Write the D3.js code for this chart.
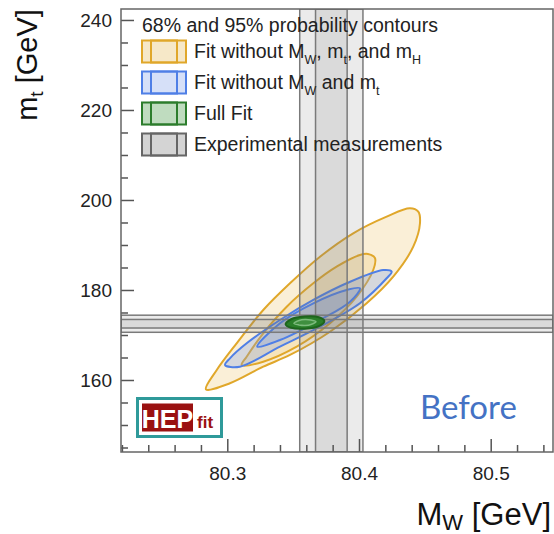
<!DOCTYPE html>
<html>
<head>
<meta charset="utf-8">
<script src="https://cdn.jsdelivr.net/npm/d3@7"></script>
<style>
  body { margin: 0; background: #fff; }
  svg text { font-family: "Liberation Sans", Arial, sans-serif; }
</style>
</head>
<body>
<div id="chart"></div>
<script>
// axis ticks
var xMajor = [80.3, 80.4, 80.5],
    xMinor = [80.22, 80.24, 80.26, 80.28, 80.32, 80.34, 80.36, 80.38, 80.42, 80.44, 80.46, 80.48, 80.52, 80.54],
    yMajor = [160, 180, 200, 220, 240],
    yMinor = [145, 150, 155, 165, 170, 175, 185, 190, 195, 205, 210, 215, 225, 230, 235];

// experimental measurements: centre, 1 sigma
var mwMeas = [80.379, 0.012],
    mtMeas = [172.5, 0.95];

// contours, [MW, mt]
var yellow95 = [[80.2838,157.93],[80.302,159.27],[80.3273,162.96],[80.3476,165.56],[80.378,170.73],[80.4058,177.04],
                [80.426,182.96],[80.4412,189.62],[80.4463,194.82],[80.445,197.4],[80.4387,198.15],[80.421,196.29],
                [80.3956,192.6],[80.3704,187.4],[80.3476,181.49],[80.3273,175.55],[80.3071,168.15],[80.292,162.22]];
var yellow68 = [[80.3109,163.33],[80.3273,164.07],[80.3527,167.4],[80.378,172.6],[80.3982,178.5],[80.4108,184.44],
                [80.4121,187.1],[80.4068,188.0],[80.4007,187.78],[80.383,185.18],[80.3653,181.49],[80.3451,176.29],
                [80.3273,170.38],[80.3147,165.18]];
var blue95 = [[80.2983,163.33],[80.3096,162.96],[80.34,167.4],[80.3704,171.84],[80.4007,177.04],[80.421,182.6],
              [80.4248,184.07],[80.4184,184.44],[80.3906,181.49],[80.3653,177.78],[80.34,173.33],[80.3147,168.15],[80.302,164.82]];
var blue68 = [[80.3228,167.4],[80.34,168.89],[80.3704,173.33],[80.3932,177.4],[80.4007,180.38],[80.3906,180.0],
              [80.3653,177.04],[80.34,172.6]];
var green95 = [[80.3443,172.33],[80.3485,171.6],[80.359,171.4],[80.3695,171.95],[80.3737,173.11],[80.3695,173.95],
               [80.359,174.1],[80.3485,173.5]];
var green68 = [[80.3506,172.56],[80.3545,172.22],[80.359,172.11],[80.3636,172.33],[80.3673,173.0],[80.3636,173.33],
               [80.359,173.44],[80.3545,173.22]];

var legendLabels = [
  [["Fit without M"], ["W", 1], [", m"], ["t", 1], [", and m"], ["H", 1]],
  [["Fit without M"], ["W", 1], [" and m"], ["t", 1]],
  [["Full Fit"]],
  [["Experimental measurements"]]
];
var legendColors = [
  {stroke: "#e0a72a", fill: "rgba(240,205,130,0.32)", box: "#f6e8c8"},
  {stroke: "#4f7fe6", fill: "rgba(120,155,235,0.28)", box: "#d6e0f8"},
  {stroke: "#2c7d2c", fill: "rgba(80,150,80,0.35)", box: "#bfdcbf"},
  {stroke: "#666666", fill: "rgba(140,140,140,0.3)", box: "#d4d4d4"}
];

var svg = d3.select("#chart").append("svg")
    .attr("width", 554)
    .attr("height", 534);

var pLeft = 121, pRight = 553, pTop = 9, pBottom = 452;

var x = d3.scaleLinear().domain([80.2193, 80.5473]).range([pLeft, pRight]);
var y = d3.scaleLinear().domain([144, 242.44]).range([pBottom, pTop]);

var plot = svg.append("g");

// clip to frame
svg.append("clipPath").attr("id", "clip")
  .append("rect").attr("x", pLeft).attr("y", pTop).attr("width", pRight - pLeft).attr("height", pBottom - pTop);
var inner = plot.append("g").attr("clip-path", "url(#clip)");

// contours
var line = d3.line()
    .x(function(d) { return x(d[0]); })
    .y(function(d) { return y(d[1]); })
    .curve(d3.curveCatmullRomClosed.alpha(0.5));

var contours = [
  {pts: yellow95, c: legendColors[0], w: 2},
  {pts: yellow68, c: legendColors[0], w: 2},
  {pts: blue95, c: legendColors[1], w: 2},
  {pts: blue68, c: legendColors[1], w: 2}
];
inner.selectAll("path.contour")
    .data(contours).enter().append("path")
    .attr("class", "contour")
    .attr("d", function(d) { return line(d.pts); })
    .style("fill", function(d) { return d.c.fill; })
    .style("stroke", function(d) { return d.c.stroke; })
    .style("stroke-width", function(d) { return d.w; });

// measurement bands
var bands = inner.append("g");
[2, 1].forEach(function(k) {
  bands.append("rect")
    .attr("x", x(mwMeas[0] - k * mwMeas[1]))
    .attr("y", pTop)
    .attr("width", x(mwMeas[0] + k * mwMeas[1]) - x(mwMeas[0] - k * mwMeas[1]))
    .attr("height", pBottom - pTop)
    .style("fill", "rgba(120,120,120,0.15)")
    .style("stroke", "#7a7a7a")
    .style("stroke-width", 1.5);
  bands.append("rect")
    .attr("x", pLeft)
    .attr("y", y(mtMeas[0] + k * mtMeas[1]))
    .attr("width", pRight - pLeft)
    .attr("height", y(mtMeas[0] - k * mtMeas[1]) - y(mtMeas[0] + k * mtMeas[1]))
    .style("fill", "rgba(120,120,120,0.15)")
    .style("stroke", "#7a7a7a")
    .style("stroke-width", 1.5);
});

// full fit on top
inner.append("path")
    .attr("d", line(green95))
    .style("fill", "#2a7f2a")
    .style("stroke", "#1d651d")
    .style("stroke-width", 2);
inner.append("path")
    .attr("d", line(green68))
    .style("fill", "#3f8f3f")
    .style("stroke", "#7dbb7d")
    .style("stroke-width", 1.5);

// axes
plot.append("g").attr("transform", "translate(0," + pBottom + ")")
    .call(d3.axisBottom(x).tickValues(xMajor).tickSize(-13).tickPadding(14.5).tickFormat(d3.format(".1f")));
plot.append("g").attr("transform", "translate(0," + pBottom + ")")
    .call(d3.axisBottom(x).tickValues(xMinor).tickSize(-7).tickFormat(""));
plot.append("g").attr("transform", "translate(" + pLeft + ",0)")
    .call(d3.axisLeft(y).tickValues(yMajor).tickSize(-13).tickPadding(9));
plot.append("g").attr("transform", "translate(" + pLeft + ",0)")
    .call(d3.axisLeft(y).tickValues(yMinor).tickSize(-7).tickFormat(""));

plot.selectAll(".domain").remove();
plot.selectAll(".tick line").style("stroke", "#555").style("stroke-width", 1.5);
plot.selectAll(".tick text").style("font-size", "19px").style("fill", "#222")
    .style("font-family", "'Liberation Sans', Arial, sans-serif");

// frame
plot.append("rect")
    .attr("x", pLeft).attr("y", pTop)
    .attr("width", pRight - pLeft).attr("height", pBottom - pTop)
    .style("fill", "none")
    .style("stroke", "#666")
    .style("stroke-width", 1.5);

// axis titles
var yt = svg.append("text")
    .attr("transform", "translate(37,65) rotate(-90)")
    .attr("text-anchor", "middle")
    .style("font-size", "29px")
    .style("fill", "#111");
yt.append("tspan").text("m");
yt.append("tspan").attr("dy", 6).style("font-size", "19px").text("t");
yt.append("tspan").attr("dy", -6).text(" [GeV]");

var xt = svg.append("text")
    .attr("x", 551).attr("y", 525)
    .attr("text-anchor", "end")
    .style("font-size", "31px")
    .style("fill", "#111");
xt.append("tspan").text("M");
xt.append("tspan").attr("dy", 5).style("font-size", "22px").text("W");
xt.append("tspan").attr("dy", -5).text(" [GeV]");

// legend
var legend = svg.append("g");
legend.append("text")
    .attr("x", 142).attr("y", 32)
    .style("font-size", "19.5px").style("fill", "#222")
    .text("68% and 95% probability contours");

var rows = legend.selectAll("g.row")
    .data(legendLabels).enter().append("g")
    .attr("class", "row")
    .attr("transform", function(d, i) { return "translate(142," + (40.5 + i * 31) + ")"; });

rows.append("rect")
    .attr("width", 44).attr("height", 22)
    .style("fill", function(d, i) { return legendColors[i].box; })
    .style("stroke", function(d, i) { return legendColors[i].stroke; })
    .style("stroke-width", 2);
rows.append("rect")
    .attr("x", 9).attr("width", 26).attr("height", 22)
    .style("fill", "none")
    .style("stroke", function(d, i) { return legendColors[i].stroke; })
    .style("stroke-width", 2);

rows.each(function(parts) {
  var t = d3.select(this).append("text")
      .attr("x", 52).attr("y", 17)
      .style("font-size", "19.5px").style("fill", "#222");
  var shifted = false;
  parts.forEach(function(p) {
    var s = t.append("tspan").text(p[0]);
    if (p[1] && !shifted) { s.attr("dy", 6).style("font-size", "12.5px"); shifted = true; }
    else if (p[1]) { s.style("font-size", "12.5px"); }
    else if (shifted) { s.attr("dy", -6); shifted = false; }
  });
});

// HEPfit logo
var logo = svg.append("g");
logo.append("rect")
    .attr("x", 137.5).attr("y", 398.5).attr("width", 84).attr("height", 38)
    .style("fill", "#fff").style("stroke", "#2f9a9a").style("stroke-width", 3);
logo.append("rect")
    .attr("x", 142).attr("y", 403.5).attr("width", 51).attr("height", 28)
    .style("fill", "#9a1111");
logo.append("text")
    .attr("x", 167.5).attr("y", 427.5).attr("text-anchor", "middle")
    .style("font-size", "25px").style("font-weight", "bold").style("fill", "#fff")
    .text("HEP");
logo.append("text")
    .attr("x", 197).attr("y", 428)
    .style("font-size", "17px").style("font-weight", "bold").style("fill", "#9a1111")
    .text("fit");

// annotation
svg.append("text")
    .attr("x", 420).attr("y", 419)
    .style("font-family", "Lato, 'Open Sans', sans-serif")
    .style("font-size", "33px").style("fill", "#4472c4")
    .text("Before");
</script>
</body>
</html>
